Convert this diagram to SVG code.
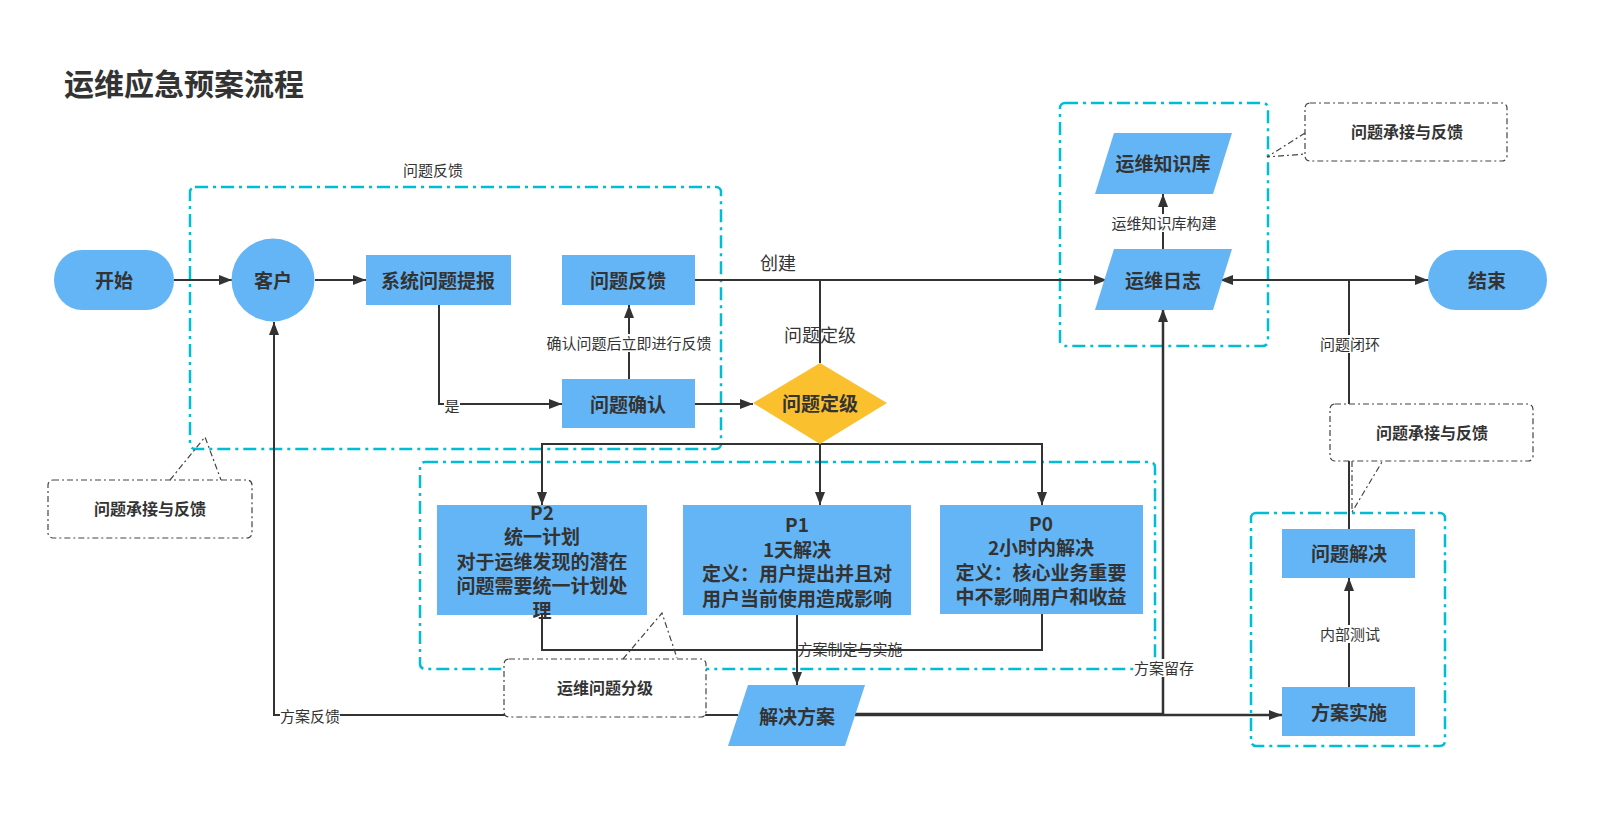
<svg xmlns="http://www.w3.org/2000/svg" width="1608" height="836" viewBox="0 0 1608 836">
<style>
.n{fill:#64B5F6}
.t{font-family:"Noto Sans CJK SC","Noto Sans",sans-serif;fill:#333;text-anchor:middle;dominant-baseline:central}
.nb{font-size:19px;font-weight:bold}
.lb{font-size:15px}
.cl{font-size:16px;font-weight:600}
.grp{fill:none;stroke:#00BCD4;stroke-width:2.5;stroke-dasharray:13 5 3 5}
.call{fill:#fff;stroke:#444;stroke-width:1.2;stroke-dasharray:6 3 2 3}
.ptr{fill:none;stroke:#444;stroke-width:1.2;stroke-dasharray:6 3 2 3}
.c{fill:none;stroke:#333;stroke-width:2}
.bg{fill:#fff}
</style>
<defs>
<marker id="ah" viewBox="0 0 13 10" refX="13" refY="5" markerWidth="13" markerHeight="10" markerUnits="userSpaceOnUse" orient="auto"><path d="M0,0 L13,5 L0,10 z" fill="#333"/></marker>
</defs>
<rect width="1608" height="836" fill="#fff"/>
<text x="64" y="82" class="t" style="font-size:30px;font-weight:bold;text-anchor:start">运维应急预案流程</text>

<g id="groups">
<rect x="190" y="187" width="531" height="262" rx="5" class="grp"/>
<rect x="420" y="462" width="735" height="207" rx="5" class="grp"/>
<rect x="1060" y="103" width="208" height="243" rx="5" class="grp"/>
<rect x="1251" y="513" width="194" height="233" rx="5" class="grp"/>
<text x="433" y="169" class="t lb">问题反馈</text>
</g>

<g id="connectors">
<path class="c" d="M174,280 L232,280" marker-end="url(#ah)"/>
<path class="c" d="M315,280 L366,280" marker-end="url(#ah)"/>
<path class="c" d="M439,305 L439,404 L562,404" marker-end="url(#ah)"/>
<path class="c" d="M629,379 L629,305" marker-end="url(#ah)"/>
<path class="c" d="M695,404 L753,404" marker-end="url(#ah)"/>
<path class="c" d="M695,280 L1107,280" marker-end="url(#ah)"/>
<path class="c" d="M820,363 L820,280"/>
<path class="c" d="M820,444 L820,505" marker-end="url(#ah)"/>
<path class="c" d="M542,505 L542,444 L1042,444 L1042,505" marker-end="url(#ah)"/>
<path class="c" d="M542,444 L542,505" marker-end="url(#ah)"/>
<path class="c" d="M542,615 L542,650 L1042,650 L1042,614"/>
<path class="c" d="M797,615 L797,685" marker-end="url(#ah)"/>
<path class="c" d="M738,715 L274,715 L274,322" marker-end="url(#ah)"/>
<path class="c" style="stroke-width:2.5" d="M855,714 L1163,714 L1163,309" marker-end="url(#ah)"/>
<path class="c" style="stroke-width:2.5" d="M855,715 L1282,715" marker-end="url(#ah)"/>
<path class="c" d="M1349,687 L1349,578" marker-end="url(#ah)"/>
<path class="c" d="M1349,529 L1349,280"/>
<path class="c" d="M1349,280 L1220,280" marker-end="url(#ah)"/>
<path class="c" d="M1349,280 L1428,280" marker-end="url(#ah)"/>
<path class="c" d="M1163,249 L1163,194" marker-end="url(#ah)"/>
<rect x="444" y="397" width="16" height="18" class="bg"/>
<text x="452" y="405" class="t lb">是</text>
<rect x="547" y="334" width="165" height="18" class="bg"/>
<text x="629" y="342" class="t lb">确认问题后立即进行反馈</text>
<text x="778" y="262" class="t" style="font-size:18px">创建</text>
<text x="820" y="334" class="t" style="font-size:18px">问题定级</text>
<text x="850" y="648" class="t lb">方案制定与实施</text>
<rect x="280" y="707" width="60" height="18" class="bg"/>
<text x="310" y="715" class="t lb">方案反馈</text>
<rect x="1134" y="659" width="60" height="18" class="bg"/>
<text x="1164" y="667" class="t lb">方案留存</text>
<rect x="1320" y="625" width="60" height="18" class="bg"/>
<text x="1350" y="633" class="t lb">内部测试</text>
<rect x="1320" y="335" width="60" height="18" class="bg"/>
<text x="1350" y="343" class="t lb">问题闭环</text>
<rect x="1111" y="214" width="106" height="18" class="bg"/>
<text x="1164" y="222" class="t lb">运维知识库构建</text>
</g>

<g id="start"><rect x="54" y="250" width="120" height="60" rx="28" ry="30" class="n"/><text x="114" y="279" class="t nb">开始</text></g>
<g id="customer"><circle cx="273" cy="280" r="41.5" class="n"/><text x="273" y="279" class="t nb">客户</text></g>
<g id="report"><rect x="366" y="255" width="145" height="50" class="n"/><text x="438" y="279" class="t nb">系统问题提报</text></g>
<g id="feedback"><rect x="562" y="255" width="133" height="50" class="n"/><text x="628" y="279" class="t nb">问题反馈</text></g>
<g id="confirm"><rect x="562" y="379" width="133" height="49" class="n"/><text x="628" y="403" class="t nb">问题确认</text></g>
<g id="grade"><path d="M820,363 L887,403 L820,444 L753,403 Z" fill="#FBC02D"/><text x="820" y="402" class="t nb">问题定级</text></g>
<g id="p2"><rect x="437" y="505" width="210" height="110" class="n"/>
<text x="542" y="511" class="t nb">P2</text><text x="542" y="535.5" class="t nb">统一计划</text><text x="542" y="560" class="t nb">对于运维发现的潜在</text><text x="542" y="584.5" class="t nb">问题需要统一计划处</text><text x="542" y="609" class="t nb">理</text></g>
<g id="p1"><rect x="683" y="505" width="228" height="110" class="n"/>
<text x="797" y="523.5" class="t nb">P1</text><text x="797" y="548" class="t nb">1天解决</text><text x="797" y="572.5" class="t nb">定义：用户提出并且对</text><text x="797" y="597" class="t nb">用户当前使用造成影响</text></g>
<g id="p0"><rect x="940" y="505" width="203" height="109" class="n"/>
<text x="1041" y="522" class="t nb">P0</text><text x="1041" y="546.5" class="t nb">2小时内解决</text><text x="1041" y="571" class="t nb">定义：核心业务重要</text><text x="1041" y="595.5" class="t nb">中不影响用户和收益</text></g>
<g id="solution"><path d="M748,685 L865,685 L845,746 L728,746 Z" class="n"/><text x="797" y="715" class="t nb">解决方案</text></g>
<g id="kb"><path d="M1114,133 L1232,133 L1213,194 L1095,194 Z" class="n"/><text x="1163" y="162" class="t nb">运维知识库</text></g>
<g id="log"><path d="M1114,249 L1232,249 L1213,310 L1095,310 Z" class="n"/><text x="1163" y="279" class="t nb">运维日志</text></g>
<g id="end"><rect x="1428" y="250" width="119" height="60" rx="28" ry="30" class="n"/><text x="1487" y="279" class="t nb">结束</text></g>
<g id="solved"><rect x="1282" y="529" width="133" height="49" class="n"/><text x="1349" y="552" class="t nb">问题解决</text></g>
<g id="implement"><rect x="1282" y="687" width="133" height="49" class="n"/><text x="1349" y="711" class="t nb">方案实施</text></g>

<g id="callout-left"><rect x="48" y="480" width="204" height="58" rx="5" class="call"/><path d="M170,480 L205,437 L221,480" class="ptr"/><text x="150" y="508" class="t cl">问题承接与反馈</text></g>
<g id="callout-grade"><rect x="504" y="659" width="202" height="58" rx="5" class="call"/><path d="M623,659 L662,613 L677,658" class="ptr"/><text x="605" y="687" class="t cl">运维问题分级</text></g>
<g id="callout-top"><rect x="1305" y="103" width="202" height="58" rx="5" class="call"/><path d="M1305,133 L1267,157 L1305,154" class="ptr"/><text x="1407" y="131" class="t cl">问题承接与反馈</text></g>
<g id="callout-right"><rect x="1330" y="404" width="203" height="57" rx="5" class="call"/><path d="M1352,461 L1352,512 L1382,462" class="ptr"/><text x="1432" y="432" class="t cl">问题承接与反馈</text></g>
</svg>
